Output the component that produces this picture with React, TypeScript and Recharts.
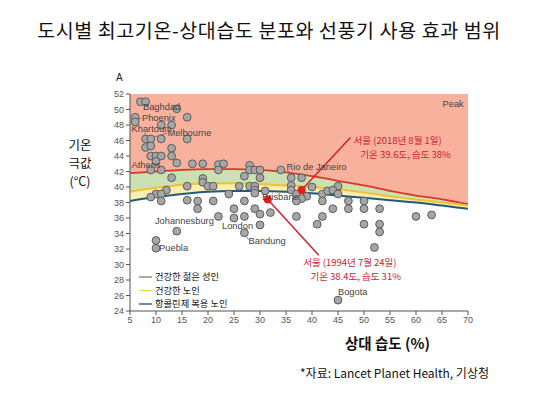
import { ComposedChart, Area, Line, Scatter, XAxis, YAxis, ReferenceLine, ReferenceDot } from 'recharts';

// 경계 곡선 (상대습도별 기온 한계)
const humidity = [5, 10, 15, 20, 25, 30, 35, 40, 45, 50, 55, 60, 65, 70];
const youngAdult = [41.8, 42.0, 42.2, 42.3, 42.3, 42.2, 41.9, 41.4, 40.8, 40.2, 39.5, 38.9, 38.4, 37.8];
const healthyOlder = [39.4, 39.9, 40.3, 40.5, 40.5, 40.4, 40.2, 40.0, 39.7, 39.3, 38.8, 38.4, 38.0, 37.6];
const anticholinergic = [38.2, 38.7, 39.1, 39.4, 39.5, 39.5, 39.4, 39.2, 38.9, 38.6, 38.3, 38.0, 37.6, 37.2];

// 도시별 극값 (습도, 기온)
const cityHumidity = [
  7, 8, 14, 6, 16, 6, 11, 13,
  8, 9, 11, 16, 8, 9, 13,
  9, 10, 11, 13,
  10, 14, 17, 19, 22, 23, 28,
  9, 11, 22, 28, 29, 30, 34,
  36, 38, 13, 27, 30, 19, 19,
  16, 20, 21, 26, 28, 29, 36, 40, 45,
  29, 29, 31, 12, 10, 11, 9, 24, 36, 37, 39, 38, 42, 43, 44, 45,
  11, 16, 18, 21, 27, 37, 42, 47, 50,
  18, 25, 29, 44, 47, 50, 53,
  22, 25, 27, 30, 32, 37, 42, 60, 63,
  30, 41, 50, 53,
  14, 27, 53,
  10, 10, 52, 45,
];
const cityTemp = [
  51, 51, 50.1, 49, 49, 48.4, 48, 48,
  46.2, 46.2, 46.2, 46.2, 45.1, 45.3, 45,
  44, 44, 44, 44,
  43.3, 43.1, 43, 43, 42.9, 43, 42.8,
  42.2, 42.2, 42.2, 42.2, 42.2, 42.2, 42.2,
  41.2, 41.2, 41.2, 41.4, 41.2, 41.1, 40.6,
  40.1, 40.1, 40.1, 40.1, 40.1, 40.1, 40.2, 40.0, 40.1,
  39.6, 39.2, 39.5, 39.6, 39.1, 39.1, 38.7, 39.1, 39.6, 39.1, 38.8, 38.5, 39.1, 39.5, 39.6, 39.1,
  38.2, 38.3, 38.2, 38.2, 38.2, 38.2, 38.2, 38.2, 38.2,
  37.2, 37.2, 37.2, 37.2, 37.2, 37.2, 37.2,
  36.2, 36.0, 36.2, 36.5, 36.7, 36.2, 36.2, 36.2, 36.4,
  35.1, 35.2, 35.2, 35.2,
  34.3, 34.1, 34.2,
  33.1, 32.1, 32.2, 25.4,
];

// 서울 사례
const seoulHumidity = [38, 31.5];
const seoulTemp = [39.6, 38.4];

const cityNames = ['Baghdad', 'Phoenix', 'Khartoum', 'Melbourne', 'Athens', 'Rio de Janeiro', 'Brisbane', 'Johannesburg', 'London', 'Bandung', 'Puebla', 'Bogota', 'Peak'];
const cityLabelX = [7.5, 7.3, 5.3, 12.2, 5.3, 35.1, 30.4, 9.8, 22.7, 27.8, 10.6, 45, 65.1];
const cityLabelY = [50.3, 48.9, 47.45, 46.95, 42.85, 42.6, 38.7, 35.6, 34.95, 33.0, 32.1, 26.5, 50.75];

const leaders = [
  [8, 50.7, 8.6, 50.35],
  [6.4, 48.6, 7.2, 48.9],
  [7.9, 47.0, 8, 46.6],
  [12.1, 46.95, 9.4, 46.4],
  [8.2, 42.6, 8.8, 42.4],
  [35.2, 42.2, 36, 41.6],
  [27.2, 33.8, 27.8, 33.2],
  [10.5, 32.1, 10.9, 32.1],
  [45.3, 26.0, 45.1, 25.8],
];

const noteText = ['서울 (2018년 8월 1일)', '기온 39.6도, 습도 38%', '서울 (1994년 7월 24일)', '기온 38.4도, 습도 31%'];
const noteX = [48.0, 49.3, 38.3, 39.7];
const noteY = [46.1, 44.27, 30.28, 28.47];
const noteLineEnd = [[47.4, 46.4], [41.3, 31.2]];

const yTicks = [24, 26, 28, 30, 32, 34, 36, 38, 40, 42, 44, 46, 48, 50, 52];
const xTicks = [5, 10, 15, 20, 25, 30, 35, 40, 45, 50, 55, 60, 65, 70];

const curveData = humidity.map((h, i) => ({
  x: h,
  peak: [youngAdult[i], 52],
  green: [healthyOlder[i], youngAdult[i]],
  yellow: [anticholinergic[i], healthyOlder[i]],
  young: youngAdult[i],
  older: healthyOlder[i],
  anti: anticholinergic[i],
}));
const cityData = cityHumidity.map((h, i) => ({ x: h, y: cityTemp[i] }));
const seoulData = seoulHumidity.map((h, i) => ({ x: h, y: seoulTemp[i] }));

const narrow = '"Liberation Sans Narrow", "Liberation Sans", sans-serif';
const kr = '"Noto Sans CJK KR", sans-serif';

const legendItems = [
  { label: '건강한 젊은 성인', color: '#bba6a6' },
  { label: '건강한 노인', color: '#f3d24a' },
  { label: '항콜린제 복용 노인', color: '#6f8cab' },
];
const yLabelLines = ['기온', '극값', '(°C)'];

export default function App() {
  return (
    <div style={{ position: 'absolute', left: 0, top: 0, width: 560, height: 399, background: '#fff', overflow: 'hidden' }}>
      <div style={{ position: 'absolute', left: 0, width: 538, top: 16, textAlign: 'center', fontFamily: kr, fontSize: 19.5, fontWeight: 400, letterSpacing: 0.6, color: '#111', whiteSpace: 'nowrap', lineHeight: '28px' }}>
        도시별 최고기온-상대습도 분포와 선풍기 사용 효과 범위
      </div>
      {yLabelLines.map((t, i) => (
        <div key={t} style={{ position: 'absolute', left: 40, width: 80, top: 136 + i * 18.2, textAlign: 'center', fontFamily: kr, fontSize: 12.5, color: '#111', lineHeight: '18px' }}>
          {t}
        </div>
      ))}
      <ComposedChart width={560} height={399} data={curveData} margin={{ top: 94, right: 92, bottom: 68, left: 110 }} style={{ position: 'absolute', left: 0, top: 0 }}>
        <XAxis dataKey="x" type="number" domain={[5, 70]} ticks={xTicks} allowDataOverflow height={20} tickSize={4} stroke="#555" tick={{ fontSize: 9, fill: '#555', fontFamily: narrow }} />
        <YAxis type="number" domain={[24, 52]} ticks={yTicks} allowDataOverflow width={20} tickSize={4} stroke="#555" tick={{ fontSize: 9, fill: '#555', fontFamily: narrow }} />
        <Area dataKey="peak" type="monotone" fill="#f7b19c" fillOpacity={1} stroke="none" isAnimationActive={false} />
        <Area dataKey="green" type="monotone" fill="#cce1b1" fillOpacity={1} stroke="none" isAnimationActive={false} />
        <Area dataKey="yellow" type="monotone" fill="#fbeeb0" fillOpacity={1} stroke="none" isAnimationActive={false} />
        <Line dataKey="young" type="monotone" stroke="#d8372b" strokeWidth={1.8} dot={false} isAnimationActive={false} />
        <Line dataKey="older" type="monotone" stroke="#f0c233" strokeWidth={2} dot={false} isAnimationActive={false} />
        <Line dataKey="anti" type="monotone" stroke="#205a80" strokeWidth={2} dot={false} isAnimationActive={false} />
        {leaders.map((s, i) => (
          <ReferenceLine key={'l' + i} segment={[{ x: s[0], y: s[1] }, { x: s[2], y: s[3] }]} stroke="#666" strokeWidth={0.8} />
        ))}
        <Scatter data={cityData} dataKey="y" fill="#a6a6a6" stroke="#5c5c5c" strokeWidth={1} isAnimationActive={false}
          shape={(p: any) => <circle cx={p.cx} cy={p.cy} r={3.9} fill="#a6a6a6" stroke="#5c5c5c" strokeWidth={1} />} />
        {noteLineEnd.map((e, i) => (
          <ReferenceLine key={'n' + i} segment={[{ x: seoulHumidity[i], y: seoulTemp[i] }, { x: e[0], y: e[1] }]} stroke="#d0222c" strokeWidth={1.5} />
        ))}
        <Scatter data={seoulData} dataKey="y" fill="#e21f1f" isAnimationActive={false}
          shape={(p: any) => <circle cx={p.cx} cy={p.cy} r={4} fill="#e21f1f" />} />
        {cityNames.map((n, i) => (
          <ReferenceDot key={n} x={cityLabelX[i]} y={cityLabelY[i]} r={0}
            shape={(p: any) => (
              <text x={p.cx} y={p.cy} dominantBaseline="central" fontSize={9.3} fill="#444" fontFamily={narrow}>{n}</text>
            )} />
        ))}
        {noteText.map((t, i) => (
          <ReferenceDot key={t} x={noteX[i]} y={noteY[i]} r={0}
            shape={(p: any) => (
              <text x={p.cx} y={p.cy} dominantBaseline="central" fontSize={9.5} fill="#cf2230" fontFamily={kr}>{t}</text>
            )} />
        ))}
      </ComposedChart>
      <div style={{ position: 'absolute', left: 116, top: 72, fontFamily: '"Liberation Sans", sans-serif', fontSize: 10, color: '#222' }}>A</div>
      <div style={{ position: 'absolute', left: 139, top: 270 }}>
        {legendItems.map((it) => (
          <div key={it.label} style={{ display: 'flex', alignItems: 'center', height: 13.5 }}>
            <span style={{ display: 'inline-block', width: 13, height: 1.5, background: it.color, marginRight: 3 }} />
            <span style={{ fontFamily: kr, fontSize: 9.3, color: '#111', whiteSpace: 'nowrap', lineHeight: '13px' }}>{it.label}</span>
          </div>
        ))}
      </div>
      <div style={{ position: 'absolute', left: 345, top: 333, fontFamily: kr, fontSize: 14.5, fontWeight: 700, color: '#111', whiteSpace: 'nowrap', lineHeight: '20px' }}>
        상대 습도 (%)
      </div>
      <div style={{ position: 'absolute', left: 300, top: 365, fontFamily: kr, fontSize: 12, color: '#111', whiteSpace: 'nowrap', lineHeight: '16px' }}>
        *자료: Lancet Planet Health, 기상청
      </div>
    </div>
  );
}
